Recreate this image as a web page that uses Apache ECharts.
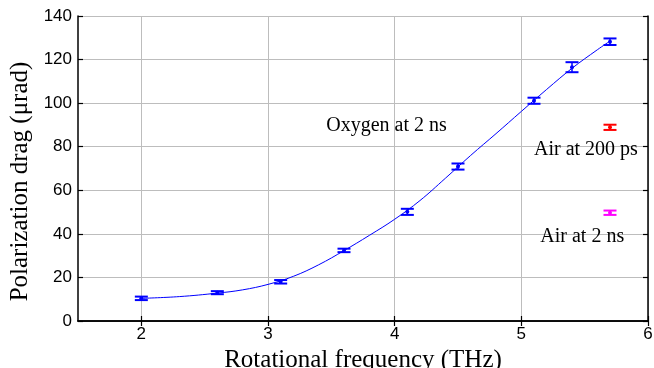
<!DOCTYPE html>
<html>
<head>
<meta charset="utf-8">
<script src="https://cdn.jsdelivr.net/npm/echarts@6/dist/echarts.min.js"></script>
<style>
  html, body { margin: 0; padding: 0; background: #fff; }
  #main { width: 654px; height: 368px; }
</style>
</head>
<body>
<div id="main"></div>
<script>
// oxygen at 2 ns, measured points
const oxyX = [2.0, 2.6, 3.1, 3.6, 4.1, 4.5, 5.1, 5.4, 5.7]
const oxyY = [10.4, 13.0, 18.0, 32.4, 50.1, 70.9, 101.1, 116.5, 128.2]
const oxyErr = [0.8, 0.7, 0.8, 0.8, 1.4, 1.4, 1.4, 2.3, 1.5]
// fitted curve
const fitX = [2.0, 2.3, 2.6, 2.8, 3.0, 3.2, 3.4, 3.6, 3.8, 4.0, 4.2, 4.4, 4.6, 4.8, 5.0, 5.2, 5.4, 5.6, 5.7]
const fitY = [10.4, 11.2, 12.8, 14.3, 16.8, 20.5, 25.8, 32.3, 39.3, 46.7, 55.3, 65.5, 76.0, 86.0, 96.2, 106.3, 116.0, 124.5, 128.5]
// air
const air200X = [5.7]
const air200Y = [88.9]
const air200Err = [1.2]
const air2nsX = [5.7]
const air2nsY = [49.7]
const air2nsErr = [1.0]
// annotations [x, y, text]
const notes = [
  [3.46, 89.5, 'Oxygen at 2 ns'],
  [5.10, 78.5, 'Air at 200 ps'],
  [5.15, 38.6, 'Air at 2 ns']
]
const xTicks = [2, 3, 4, 5, 6]

const chart = echarts.init(document.getElementById('main'))

const zip3 = (a, b, c) => a.map((v, i) => [v, b[i], c[i]])

const errorBar = color => (params, api) => {
  const x = api.value(0)
  const y = api.value(1)
  const e = api.value(2)
  const top = api.coord([x, y + e])
  const bot = api.coord([x, y - e])
  const c = api.coord([x, y])
  const hw = 6.5
  const st = { stroke: color, lineWidth: 1.5 }
  return {
    type: 'group',
    children: [
      { type: 'line', shape: { x1: top[0], y1: top[1], x2: bot[0], y2: bot[1] }, style: st },
      { type: 'line', shape: { x1: top[0] - hw, y1: top[1], x2: top[0] + hw, y2: top[1] }, style: { stroke: color, lineWidth: 2 } },
      { type: 'line', shape: { x1: bot[0] - hw, y1: bot[1], x2: bot[0] + hw, y2: bot[1] }, style: { stroke: color, lineWidth: 2 } },
      { type: 'circle', shape: { cx: c[0], cy: c[1], r: 2 }, style: { fill: color } }
    ]
  }
}

const frameLine = { show: true, lineStyle: { color: '#000', width: 1.5 } }
const innerTick = { show: true, inside: true, length: 5, lineStyle: { color: '#000', width: 1.2 } }
const tickFont = { fontFamily: 'Liberation Sans', fontSize: 17, color: '#000' }

const option = {
  animation: false,
  backgroundColor: '#fff',
  grid: { left: 78, right: 6, top: 16, bottom: 47, outerBoundsMode: 'none', containLabel: false },
  xAxis: [
    {
      type: 'value',
      min: 1.5,
      max: 6,
      name: 'Rotational frequency (THz)',
      nameLocation: 'middle',
      nameGap: 17,
      nameTextStyle: { fontFamily: 'Liberation Serif', fontSize: 25, color: '#000' },
      axisLine: frameLine,
      axisTick: Object.assign({ customValues: xTicks }, innerTick),
      axisLabel: Object.assign({ customValues: xTicks, margin: 5 }, tickFont),
      splitLine: { show: true, lineStyle: { color: '#bdbdbd', width: 1 } }
    },
    {
      type: 'value',
      position: 'top',
      min: 1.5,
      max: 6,
      axisLine: frameLine,
      axisTick: Object.assign({ customValues: xTicks }, innerTick),
      axisLabel: { show: false },
      splitLine: { show: false }
    }
  ],
  yAxis: [
    {
      type: 'value',
      min: 0,
      max: 140,
      interval: 20,
      name: 'Polarization drag (μrad)',
      nameLocation: 'middle',
      nameGap: 44,
      nameTextStyle: { fontFamily: 'Liberation Serif', fontSize: 25, color: '#000', padding: [0, 26, 0, 0] },
      axisLine: frameLine,
      axisTick: innerTick,
      axisLabel: Object.assign({ margin: 6 }, tickFont),
      splitLine: { show: true, lineStyle: { color: '#bdbdbd', width: 1 } }
    },
    {
      type: 'value',
      position: 'right',
      min: 0,
      max: 140,
      interval: 20,
      axisLine: frameLine,
      axisTick: innerTick,
      axisLabel: { show: false },
      splitLine: { show: false }
    }
  ],
  series: [
    {
      type: 'line',
      data: fitX.map((v, i) => [v, fitY[i]]),
      smooth: 0.4,
      symbol: 'none',
      lineStyle: { color: '#0000ff', width: 1 },
      z: 2
    },
    {
      type: 'custom',
      renderItem: errorBar('#0000ff'),
      data: zip3(oxyX, oxyY, oxyErr),
      z: 3
    },
    {
      type: 'custom',
      renderItem: errorBar('#ff0000'),
      data: zip3(air200X, air200Y, air200Err),
      z: 3
    },
    {
      type: 'custom',
      renderItem: errorBar('#ff00ff'),
      data: zip3(air2nsX, air2nsY, air2nsErr),
      z: 3
    },
    {
      type: 'scatter',
      symbolSize: 0,
      data: notes.map(n => ({ value: [n[0], n[1]], name: n[2] })),
      label: {
        show: true,
        position: [0, 0],
        align: 'left',
        verticalAlign: 'middle',
        formatter: p => p.name,
        fontFamily: 'Liberation Serif',
        fontSize: 20,
        color: '#000',
        opacity: 1
      },
      z: 4
    }
  ]
}
chart.setOption(option)
</script>
</body>
</html>
